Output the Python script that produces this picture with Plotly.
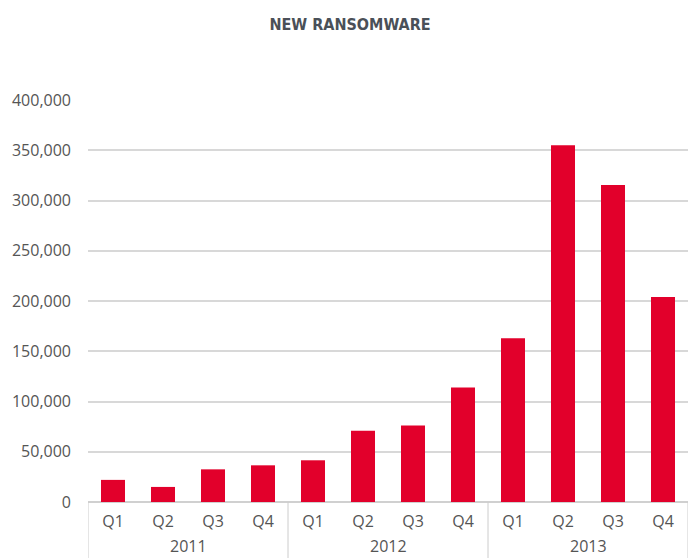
import plotly.graph_objects as go

years = ["2011"] * 4 + ["2012"] * 4 + ["2013"] * 4
quarters = ["Q1", "Q2", "Q3", "Q4"] * 3
values = [22000, 15000, 32500, 36500, 41500, 71000, 76000, 114000, 163000, 355000, 315500, 204000]
y_ticks = [0, 50000, 100000, 150000, 200000, 250000, 300000, 350000, 400000]

idx = list(range(len(values)))
year_names = sorted(set(years))
year_centers = [sum(i for i, y in zip(idx, years) if y == yr) / years.count(yr) for yr in year_names]
boundaries = [-0.5] + [i + 0.5 for i in idx[:-1] if years[i] != years[i + 1]] + [idx[-1] + 0.5]
xr = [-0.5, len(values) - 0.5]

FONT = "Open Sans"
GRAY = "#555555"
W, H = 689, 558
M = dict(l=88, r=1, t=100, b=56)
plot_h = H - M["t"] - M["b"]

fig = go.Figure(go.Bar(
    x=idx, y=values,
    marker=dict(color="#e2002b", line=dict(width=0)),
    width=0.48,
))

annotations = [
    dict(x=c, y=-44 / plot_h, xref="x", yref="paper", text=yr, showarrow=False,
         xanchor="center", yanchor="middle", font=dict(family=FONT, size=16, color=GRAY))
    for c, yr in zip(year_centers, year_names)
]
shapes = [
    dict(type="line", xref="x", yref="paper", x0=b, x1=b, y0=0, y1=-(M["b"] + 2) / plot_h,
         line=dict(color="#cccccc", width=1))
    for b in boundaries
]

fig.update_layout(
    width=W, height=H,
    margin=M,
    paper_bgcolor="white", plot_bgcolor="white",
    showlegend=False,
    title=dict(text="<b>NEW RANSOMWARE</b>", x=0.508, xanchor="center", y=1 - 24 / H, yanchor="middle",
               font=dict(family="DejaVu Sans Condensed, sans-serif", size=16, color="#4a5058")),
    font=dict(family=FONT, size=16, color=GRAY),
    annotations=annotations,
    shapes=shapes,
    xaxis=dict(range=xr, tickvals=idx, ticktext=quarters, ticks="", showgrid=False, zeroline=False,
               showline=False, ticklabelstandoff=8, tickfont=dict(family=FONT, size=16, color=GRAY)),
    yaxis=dict(range=[0, 400000], tickvals=y_ticks, tickformat=",",
               showgrid=True, gridcolor="#d8d8d8", gridwidth=1.5,
               zeroline=True, zerolinecolor="#d0d0d0", zerolinewidth=1.5,
               ticks="", ticklabelstandoff=16,
               tickfont=dict(family=FONT, size=16, color=GRAY)),
)

fig.write_html("out.html", config={"displayModeBar": False},
               post_script="document.body.style.margin='0';")
